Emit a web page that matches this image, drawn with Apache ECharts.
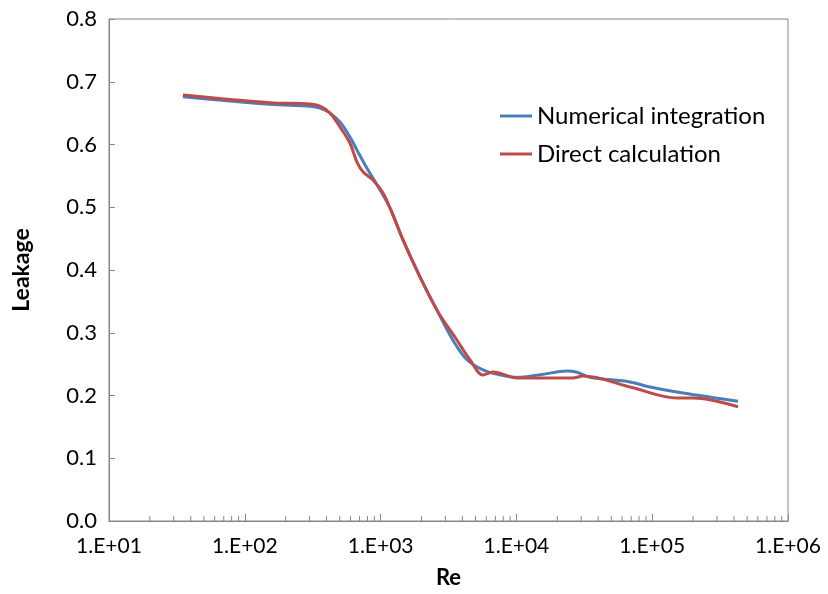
<!DOCTYPE html>
<html><head><meta charset="utf-8">
<script src="https://cdn.jsdelivr.net/npm/echarts@6/dist/echarts.min.js"></script>
<style>html,body{margin:0;padding:0;background:#fff}#c{width:828px;height:594px}</style>
</head><body><div id="c"></div>
<script>
const numRe = [35,153,302,358,424,502,595,670,794,957,1172,1462,1950,2601,3411,4325,5673,7570,10100,14920,23600,27940,34830,68700,96400,168700,428600];
const numVal = [0.676,0.664,0.661,0.658,0.650,0.636,0.612,0.591,0.562,0.533,0.499,0.448,0.389,0.336,0.288,0.257,0.241,0.233,0.229,0.233,0.239,0.237,0.229,0.2215,0.2135,0.204,0.191];
const dirRe = [35,153,302,358,424,502,595,670,745,879,1042,1172,1462,1950,2601,3655,4550,5673,6730,10100,17660,26120,30930,68700,152500,199500,428600];
const dirVal = [0.679,0.6667,0.6645,0.661,0.650,0.628,0.602,0.572,0.556,0.5434,0.5227,0.499,0.448,0.389,0.336,0.288,0.257,0.2327,0.2375,0.228,0.228,0.228,0.231,0.2135,0.196,0.196,0.182];
const minorTicks = [];
[10,100,1000,10000,100000].forEach(d=>{for(let k=2;k<=9;k++)minorTicks.push(d*k);});
const seriesNames = ['Numerical integration','Direct calculation'];
const yLabels = ['0.0','0.1','0.2','0.3','0.4','0.5','0.6','0.7','0.8'];

const font = 'Lato, "Open Sans", sans-serif';
const chart = echarts.init(document.getElementById('c'), null, {renderer:'canvas'});
chart.setOption({
  animation:false,
  grid:{left:109,right:40,top:19,bottom:73,show:true,borderColor:'#868686',borderWidth:1,
    containLabel:false,outerBoundsMode:'none'},
  legend:{
    orient:'vertical', left:495, top:99, itemGap:14, itemWidth:32, itemHeight:3,
    textStyle:{fontFamily:font,fontSize:24,color:'#000'},
    data:seriesNames.map(n=>({name:n,icon:'rect'}))
  },
  xAxis:{
    type:'log', logBase:10, min:10, max:1e6,
    name:'Re', nameLocation:'middle', nameGap:46,
    nameTextStyle:{fontFamily:font,fontSize:22,fontWeight:'bold',color:'#000'},
    axisLine:{lineStyle:{color:'#868686',width:1}},
    axisTick:{inside:true,length:7,lineStyle:{color:'#868686'}},
    axisLabel:{fontFamily:font,fontSize:21,color:'#000',margin:15,
      formatter:v=>'1.E+'+String(Math.round(Math.log10(v))).padStart(2,'0')},
    splitLine:{show:false}
  },
  yAxis:{
    type:'value', min:0, max:0.8, interval:0.1,
    name:'Leakage', nameLocation:'middle', nameGap:76, nameRotate:90,
    nameTextStyle:{fontFamily:font,fontSize:23,fontWeight:'bold',color:'#000'},
    axisLine:{show:true,lineStyle:{color:'#868686',width:1}},
    axisTick:{show:true,inside:true,length:6,lineStyle:{color:'#868686'}},
    axisLabel:{fontFamily:font,fontSize:22,color:'#000',margin:12,
      formatter:v=>yLabels[Math.round(v*10)]},
    splitLine:{show:false}
  },
  series:[
    {name:seriesNames[0],type:'line',data:numRe.map((r,i)=>[r,numVal[i]]),smooth:0.35,symbol:'none',
      lineStyle:{color:'#4A7EBB',width:3},itemStyle:{color:'#4A7EBB'},z:3},
    {name:seriesNames[1],type:'line',data:dirRe.map((r,i)=>[r,dirVal[i]]),smooth:0.35,symbol:'none',
      lineStyle:{color:'#BE4B48',width:3},itemStyle:{color:'#BE4B48'},z:4},
    {type:'custom',silent:true,legendHoverLink:false,data:minorTicks.map(v=>[v,0]),
      renderItem:(params,api)=>{const p=api.coord([api.value(0),0]);
        return {type:'line',shape:{x1:p[0],y1:p[1],x2:p[0],y2:p[1]-5},style:{stroke:'#868686',lineWidth:1}};},
      z:2}
  ]
});
</script></body></html>
